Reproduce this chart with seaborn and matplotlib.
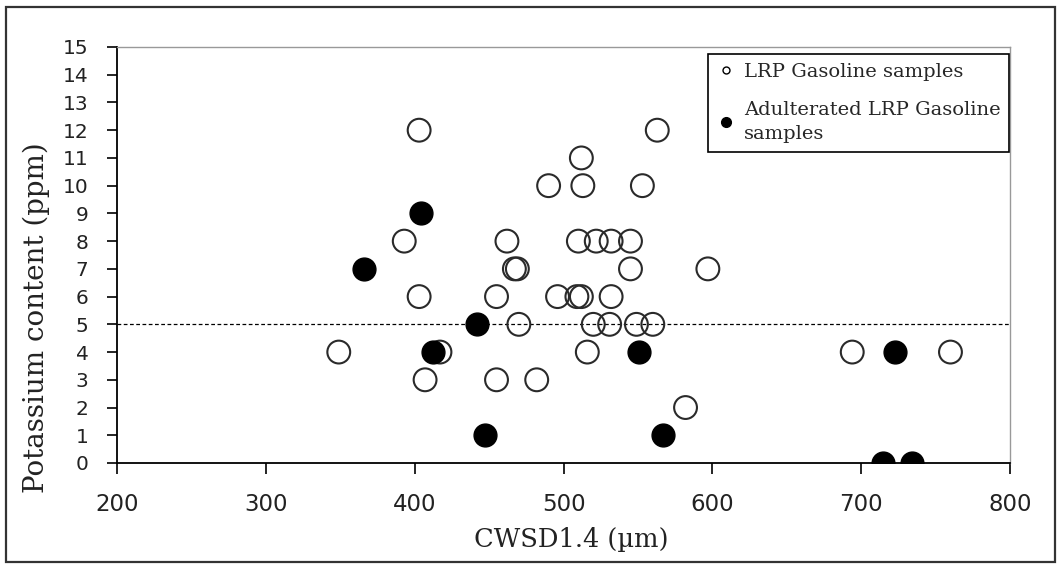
import matplotlib
matplotlib.use("Agg")
import matplotlib.pyplot as plt
import seaborn as sns
import pandas as pd
from matplotlib.lines import Line2D
from matplotlib.patches import Rectangle

# LRP gasoline samples (open circles)
lrp_x = [403, 563, 512, 490, 513, 553, 393, 462, 510, 522, 532, 545,
         467, 469, 545, 597, 403, 455, 496, 509, 512, 532,
         470, 520, 531, 549, 560, 349, 417, 516, 694, 760,
         407, 455, 482, 582]
lrp_y = [12, 12, 11, 10, 10, 10, 8, 8, 8, 8, 8, 8,
         7, 7, 7, 7, 6, 6, 6, 6, 6, 6,
         5, 5, 5, 5, 5, 4, 4, 4, 4, 4,
         3, 3, 3, 2]

# Adulterated LRP gasoline samples (filled circles)
adu_x = [404, 366, 442, 412, 551, 723, 447, 567, 715, 734]
adu_y = [9, 7, 5, 4, 4, 4, 1, 1, 0, 0]

threshold = 5
x_ticks = [200, 300, 400, 500, 600, 700, 800]
y_ticks = list(range(0, 16))

label_lrp = "LRP Gasoline samples"
label_adu = "Adulterated LRP Gasoline\nsamples"
x_label = "CWSD1.4 (µm)"
y_label = "Potassium content (ppm)"

df_lrp = pd.DataFrame({"x": lrp_x, "y": lrp_y})
df_adu = pd.DataFrame({"x": adu_x, "y": adu_y})

sns.set_theme(style="white")
plt.rcParams["font.family"] = ["DejaVu Sans"]

W, H = 1061, 566
fig = plt.figure(figsize=(W / 100, H / 100), dpi=100)
ax = fig.add_axes([117 / W, 1 - 463 / H, (1010 - 117) / W, (463 - 47) / H])

ax.axhline(threshold, color="black", linestyle=(0, (3, 2)), linewidth=0.9, zorder=1)

sns.scatterplot(data=df_lrp, x="x", y="y", ax=ax, s=270, marker="o",
                facecolors="none", edgecolor="#2a2a2a", linewidth=1.5, zorder=3)
sns.scatterplot(data=df_adu, x="x", y="y", ax=ax, s=270, marker="o",
                color="black", edgecolor="black", linewidth=1.0, zorder=4)

ax.set_xlim(200, 800)
ax.set_ylim(0, 15)
ax.set_xticks(x_ticks)
ax.set_yticks(y_ticks)
ax.tick_params(axis="x", direction="out", length=8, width=1.2, labelsize=16.5,
               colors="black", bottom=True, pad=13.5)
ax.tick_params(axis="y", direction="out", length=7, width=1.2, labelsize=14.5,
               colors="black", left=True, pad=13.5)
for lab in ax.get_xticklabels() + ax.get_yticklabels():
    lab.set_color("#222222")

for side in ["left", "bottom"]:
    ax.spines[side].set_color("black")
    ax.spines[side].set_linewidth(1.3)
for side in ["top", "right"]:
    ax.spines[side].set_color("#999999")
    ax.spines[side].set_linewidth(1.0)

ax.set_xlabel("")
ax.set_ylabel("")
fig.text(571 / W, 1 - 540 / H, x_label, fontsize=18.5, family=["DejaVu Serif"],
         color="#222222", ha="center", va="center")
fig.text(36 / W, 1 - 318 / H, y_label, fontsize=20, family=["DejaVu Serif"],
         color="#222222", ha="center", va="center", rotation=90)

handles = [
    Line2D([0], [0], marker="o", linestyle="none", markersize=5,
           markerfacecolor="none", markeredgecolor="black", markeredgewidth=1.0),
    Line2D([0], [0], marker="o", linestyle="none", markersize=7,
           markerfacecolor="black", markeredgecolor="black"),
]
leg = ax.legend(handles, [label_lrp, label_adu], loc="upper right",
                bbox_to_anchor=(1009 / W, 1 - 54 / H), bbox_transform=fig.transFigure,
                borderaxespad=0, frameon=True, fancybox=False,
                edgecolor="black", framealpha=1, handlelength=1.0,
                handletextpad=0.4, borderpad=0.45, labelspacing=1.05,
                prop={"family": ["DejaVu Serif"], "size": 14})
for t in leg.get_texts():
    t.set_linespacing(1.4)
leg.get_frame().set_linewidth(1.2)

fig.patches.append(Rectangle((6 / W, 4 / H), 1 - 12 / W, 1 - 11 / H,
                             transform=fig.transFigure, fill=False,
                             edgecolor="#333333", linewidth=1.6))

fig.savefig("out.png", dpi=100)
